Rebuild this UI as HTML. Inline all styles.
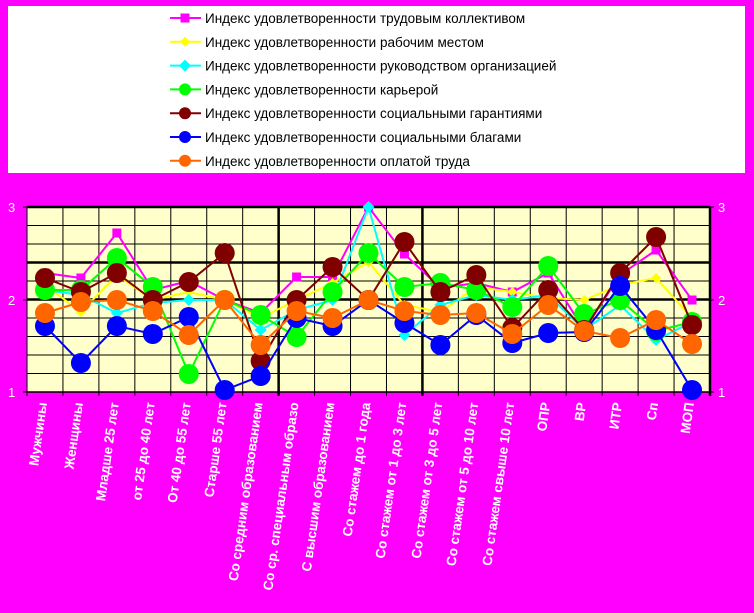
<!DOCTYPE html>
<html><head><meta charset="utf-8"><style>
html,body{margin:0;padding:0;background:#ff00ff;}
svg{display:block;}
</style></head><body>
<svg id="s" width="754" height="613" xmlns="http://www.w3.org/2000/svg" font-family="Liberation Sans, Arial, sans-serif"></svg>
<script>
const s=document.getElementById('s');
let h='';
h+='<rect x="0" y="0" width="754" height="613" fill="#ff00ff"/>';
h+='<rect x="8" y="6" width="737" height="167" fill="#fff"/>';
const ser=[
 {c:'#ff00ff',m:'sq',n:'Индекс удовлетворенности трудовым коллективом',y:[273,278,233,290,281,300,313,277,277,207,254,288,283,292,273,330,275,250,300]},
 {c:'#ffff00',m:'di',n:'Индекс удовлетворенности рабочим местом',y:[285,312,275,300,292,300,318,300,283,262,305,312,287,292,298,300,285,278,318]},
 {c:'#00ffff',m:'dis',n:'Индекс удовлетворенности руководством организацией',y:[290,295,313,303,300,300,330,310,300,207,335,305,295,300,295,330,305,340,322]},
 {c:'#00ff00',m:'c',n:'Индекс удовлетворенности карьерой',y:[290,290,258,287,374,300,315,337,292,253,287,283,290,307,266,314,300,331,322]},
 {c:'#800000',m:'c',n:'Индекс удовлетворенности социальными гарантиями',y:[278,292,273,300,282,253,361,300,267,300,242,292,275,328,290,330,273,237,325]},
 {c:'#0000ff',m:'c',n:'Индекс удовлетворенности социальными благами',y:[326,363,326,334,317,390,376,318,326,300,323,345,315,343,333,332,286,330,390]},
 {c:'#ff6600',m:'c',n:'Индекс удовлетворенности оплатой труда',y:[313,302,300,311,335,300,345,311,318,300,311,315,313,334,305,331,338,320,344]}
];
function mk(t,x,y,c){
 if(t=='sq')return `<rect x="${x-4.5}" y="${y-4.5}" width="9" height="9" fill="${c}"/>`;
 if(t=='di')return `<polygon points="${x},${y-5} ${x+5},${y} ${x},${y+5} ${x-5},${y}" fill="${c}"/>`;
 if(t=='dis')return `<polygon points="${x},${y-6} ${x+6},${y} ${x},${y+6} ${x-6},${y}" fill="${c}"/>`;
 return `<circle cx="${x}" cy="${y}" r="10" fill="${c}"/>`;
}
ser.forEach((d,i)=>{const y=18+i*23.8;
 h+=`<line x1="170" y1="${y}" x2="201" y2="${y}" stroke="${d.c}" stroke-width="2"/>`;
 h+= d.m=='c'?`<circle cx="185" cy="${y}" r="6" fill="${d.c}"/>`:mk(d.m,185,y,d.c);
 h+=`<text x="205" y="${y+5}" font-size="13.5" fill="#000">${d.n}</text>`;});
const L=27,R=710,T=207,B=392,W=(R-L)/19;
h+=`<rect x="${L}" y="${T}" width="${R-L}" height="${B-T}" fill="#ffffcc"/>`;
for(let k=1;k<10;k++){const y=T+k*18.5;const thick=(k==3||k==5);
 h+=`<line x1="${L}" y1="${y}" x2="${R}" y2="${y}" stroke="#000" stroke-width="${thick?2.5:1}"/>`;}
h+=`<line x1="${L}" y1="${T}" x2="${R}" y2="${T}" stroke="#000" stroke-width="2.5"/>`;
for(let i=0;i<=19;i++){const x=L+i*W;const th=(i==7||i==11||i==19);
 h+=`<line x1="${x}" y1="${T}" x2="${x}" y2="${B+4}" stroke="#000" stroke-width="${th?2.5:1}"/>`;}
h+=`<line x1="${L}" y1="${B}" x2="${R}" y2="${B}" stroke="#000" stroke-width="1.5"/>`;
h+=`<line x1="${L-4}" y1="${T}" x2="${L}" y2="${T}" stroke="#000"/><line x1="${L-4}" y1="300" x2="${L}" y2="300" stroke="#000"/><line x1="${L-4}" y1="${B}" x2="${L}" y2="${B}" stroke="#000"/>`;
h+=`<line x1="${R}" y1="${T}" x2="${R+4}" y2="${T}" stroke="#000"/><line x1="${R}" y1="300" x2="${R+4}" y2="300" stroke="#000"/><line x1="${R}" y1="${B}" x2="${R+4}" y2="${B}" stroke="#000"/>`;
[[T,'3'],[300,'2'],[B,'1']].forEach(a=>{
 h+=`<text x="8" y="${a[0]+5}" font-size="13" fill="#fff">${a[1]}</text>`;
 h+=`<text x="718" y="${a[0]+5}" font-size="13" fill="#fff">${a[1]}</text>`;});
ser.forEach(d=>{let p=d.y.map((y,i)=>`${(L+W*(i+.5)).toFixed(1)},${y}`).join(' ');
 h+=`<polyline points="${p}" fill="none" stroke="${d.c}" stroke-width="2"/>`;
 d.y.forEach((y,i)=>h+=mk(d.m,L+W*(i+.5),y,d.c));});
const labs=['Мужчины','Женщины','Младше 25 лет','от 25 до 40 лет','От 40 до 55 лет','Старше 55 лет','Со средним образованием','Со ср. специальным образо','С высшим образованием','Со стажем до 1 года','Со стажем от 1 до 3 лет','Со стажем от 3 до 5 лет','Со стажем от 5 до 10 лет','Со стажем свыше 10 лет','ОПР','ВР','ИТР','Сп','МОП'];
labs.forEach((t,i)=>{const x=L+W*(i+.5)+2,y=403;
 h+=`<text x="${x}" y="${y}" font-size="13.5" font-weight="bold" fill="#fff" text-anchor="end" transform="rotate(-82 ${x} ${y})">${t}</text>`;});
s.innerHTML=h;
</script>
</body></html>
